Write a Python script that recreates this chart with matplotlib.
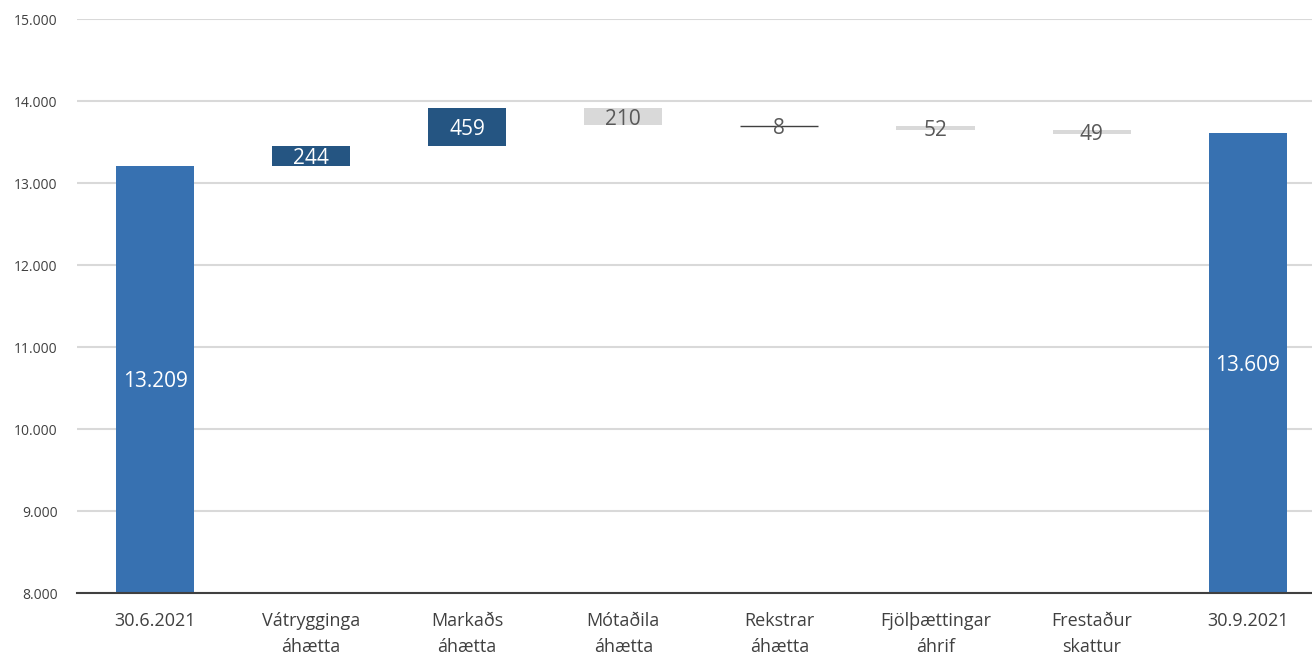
import matplotlib
matplotlib.use("Agg")
import matplotlib.pyplot as plt

categories = ["30.6.2021", "Vátrygginga\náhætta", "Markaðs\náhætta", "Mótaðila\náhætta",
              "Rekstrar\náhætta", "Fjölþættingar\náhrif", "Frestaður\nskattur", "30.9.2021"]
start_value = 13209
deltas = [244, 459, -210, -8, -52, -49]
end_value = 13609
y_ticks = [8000, 9000, 10000, 11000, 12000, 13000, 14000, 15000]

def fmt(v):
    return f"{v:,}".replace(",", ".")

plt.rcParams['font.family'] = ['Open Sans', 'DejaVu Sans']

fig = plt.figure(figsize=(13.12, 6.55), dpi=100)
ax = fig.add_axes([77/1312, 62/655, 1 - 77/1312, (593-19)/655])

total_color = "#3771B1"
up_color = "#255582"
down_color = "#D9D9D9"
width = 0.5
base = y_ticks[0]

# totals
for i, v in [(0, start_value), (7, end_value)]:
    ax.bar(i, v - base, bottom=base, width=width, color=total_color, zorder=3)
    ax.text(i, (v + base) / 2, fmt(v), ha="center", va="center_baseline",
            color="white", fontsize=15, zorder=4)

level = start_value
for k, d in enumerate(deltas):
    i = k + 1
    if d >= 0:
        bottom, top = level, level + d
        color = up_color
        tcol = "white"
    else:
        bottom, top = level + d, level
        color = down_color
        tcol = "#595959"
    if abs(d) < 20:
        ax.hlines((bottom + top) / 2, i - width / 2, i + width / 2, color="#404040",
                  linewidth=1, zorder=3)
    else:
        ax.bar(i, top - bottom, bottom=bottom, width=width, color=color, zorder=3)
    ax.text(i, (bottom + top) / 2, str(abs(d)), ha="center", va="center_baseline",
            color=tcol, fontsize=15, zorder=4)
    level += d

ax.set_ylim(8000, 15000)
ax.set_xlim(-0.5, (1312 - 155) / 156.1)
ax.set_yticks(y_ticks)
ax.set_yticklabels([fmt(t) for t in y_ticks], fontsize=10, color="#404040")
ax.set_xticks(range(len(categories)))
ax.set_xticklabels(categories, fontsize=13, color="#404040", linespacing=1.55)
ax.tick_params(axis="both", length=0)
ax.tick_params(axis="y", pad=14)
ax.tick_params(axis="x", pad=14)
ax.grid(axis="y", color="#D9D9D9", linewidth=1.5, zorder=0)
for s in ["top", "right", "left"]:
    ax.spines[s].set_visible(False)
ax.spines["bottom"].set_color("#404040")
ax.spines["bottom"].set_linewidth(1.5)
ax.spines["bottom"].set_zorder(5)

fig.savefig("out.png", dpi=100)
